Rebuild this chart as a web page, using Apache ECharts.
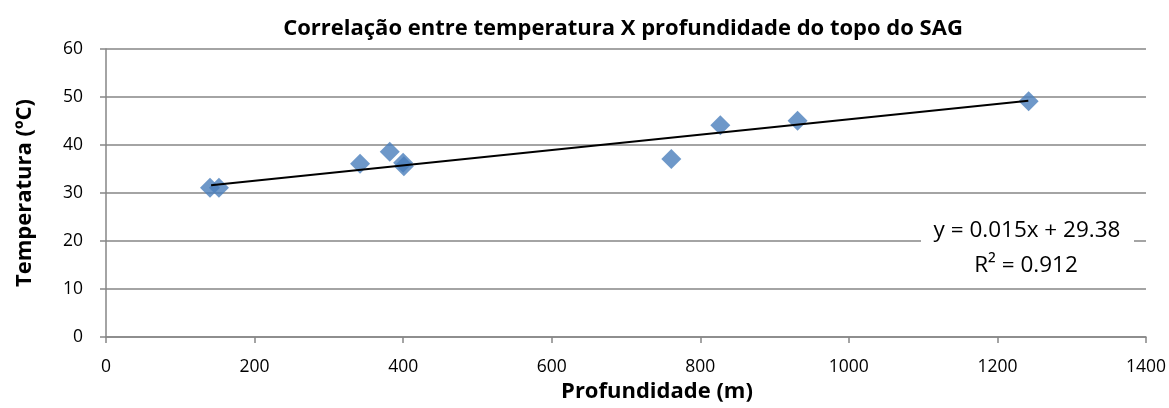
<!DOCTYPE html>
<html>
<head>
<meta charset="utf-8">
<script src="https://cdn.jsdelivr.net/npm/echarts@6/dist/echarts.min.js"></script>
<style>
html,body{margin:0;padding:0;background:#fff;}
#chart{width:1169px;height:408px;}
</style>
</head>
<body>
<div id="chart"></div>
<script>
// Data
var depth = [140, 152, 342, 382, 400, 401, 761, 827, 931, 1242];
var temperature = [31.1, 31.1, 36.1, 38.6, 36.3, 35.6, 37.1, 44.1, 45.05, 49.1];
// Trend line endpoints (as drawn)
var trendX = [141.5, 1241.6];
var trendY = [31.6, 49.2];
var xTicks = [0, 200, 400, 600, 800, 1000, 1200, 1400];
var yTicks = [0, 10, 20, 30, 40, 50, 60];
var titleText = 'Correlação entre temperatura X profundidade do topo do SAG';
var xName = 'Profundidade (m)';
var yName = 'Temperatura (ºC)';
var eqLine1 = 'y = 0.015x + 29.38';
var eqLine2 = 'R² = 0.912';

var FONT = '"Open Sans", sans-serif';
var points = depth.map(function (d, i) { return [d, temperature[i]]; });
var trend = trendX.map(function (d, i) { return [d, trendY[i]]; });

var chart = echarts.init(document.getElementById('chart'), null, {renderer: 'canvas'});
chart.setOption({
  backgroundColor: '#ffffff',
  animation: false,
  title: {
    text: titleText,
    left: 618, top: 13, textAlign: 'center',
    textStyle: {fontFamily: FONT, fontWeight: 'bold', fontSize: 22, color: '#000'}
  },
  grid: {left: 106, right: 23, top: 49, bottom: 66, containLabel: false},
  xAxis: {
    type: 'value', min: xTicks[0], max: xTicks[xTicks.length - 1], interval: 200,
    name: xName, nameLocation: 'middle', nameGap: 41,
    nameTextStyle: {fontFamily: FONT, fontWeight: 'bold', fontSize: 22, color: '#000', padding: [0, 0, 0, 62]},
    axisLine: {show: true, lineStyle: {color: '#868686', width: 1.5}},
    axisTick: {show: true, inside: false, length: 6, lineStyle: {color: '#868686', width: 1.5}},
    axisLabel: {fontFamily: FONT, fontSize: 17.5, color: '#000', margin: 21,
      formatter: function (v) { return String(v); }},
    splitLine: {show: false}
  },
  yAxis: {
    type: 'value', min: yTicks[0], max: yTicks[yTicks.length - 1], interval: 10,
    name: yName, nameLocation: 'middle', nameGap: 70, nameRotate: 90,
    nameTextStyle: {fontFamily: FONT, fontWeight: 'bold', fontSize: 22, color: '#000'},
    axisLine: {show: true, lineStyle: {color: '#868686', width: 1.5}},
    axisTick: {show: true, inside: false, length: 6, lineStyle: {color: '#868686', width: 1.5}},
    axisLabel: {fontFamily: FONT, fontSize: 17.5, color: '#000', margin: 23,
      formatter: function (v) { return String(v); }},
    splitLine: {show: true, lineStyle: {color: '#868686', width: 1.5}}
  },
  series: [
    {
      type: 'scatter', data: points, symbol: 'diamond', symbolSize: 20,
      itemStyle: {color: '#4A7EBB'}, z: 3
    },
    {
      type: 'line', data: trend, symbol: 'none', showSymbol: false,
      lineStyle: {color: '#000', width: 2}, z: 4
    }
  ],
  graphic: [
    {
      type: 'rect', shape: {x: 921, y: 214, width: 213, height: 72},
      style: {fill: '#fff'}, z: 10
    },
    {
      type: 'text', x: 1027, y: 231, z: 11,
      style: {text: eqLine1, font: '22.5px ' + FONT, fill: '#000', textAlign: 'center', textVerticalAlign: 'middle'}
    },
    {
      type: 'text', x: 1026, y: 266, z: 11,
      style: {text: eqLine2, font: '22.5px ' + FONT, fill: '#000', textAlign: 'center', textVerticalAlign: 'middle'}
    }
  ]
});
</script>
</body>
</html>
